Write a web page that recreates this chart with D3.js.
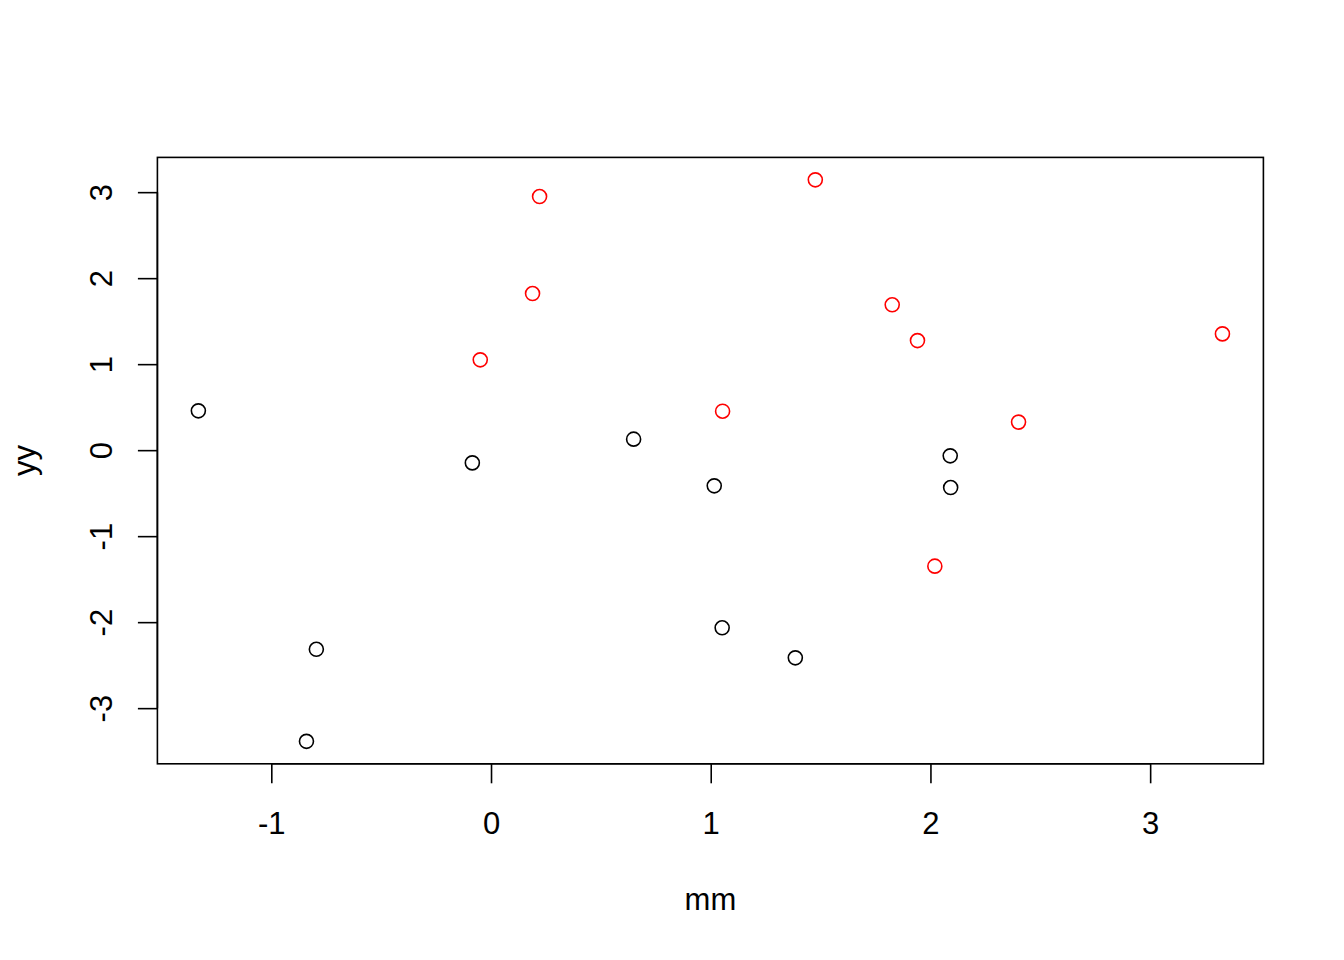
<!DOCTYPE html>
<html>
<head>
<meta charset="utf-8">
<script src="https://cdn.jsdelivr.net/npm/d3@7"></script>
<style>
  html, body { margin: 0; padding: 0; background: #fff; }
  svg { display: block; }
  text { font-family: "Liberation Sans", Arial, Helvetica, sans-serif; fill: #000; }
</style>
</head>
<body>
<script>
// Data: mm (x) and yy (y); first 10 points black, last 10 red
const mmBlack = [-1.332, -0.795, -0.840, -0.085, 0.649, 1.016, 1.052, 1.385, 2.090, 2.092];
const yyBlack = [0.457, -2.316, -3.386, -0.148, 0.128, -0.415, -2.066, -2.415, -0.066, -0.435];
const mmRed = [0.221, 1.476, 0.189, -0.049, 1.054, 1.826, 1.941, 2.020, 2.401, 3.329];
const yyRed = [2.949, 3.143, 1.821, 1.050, 0.453, 1.690, 1.274, -1.349, 0.326, 1.352];
const xTicks = [-1, 0, 1, 2, 3];
const yTicks = [-3, -2, -1, 0, 1, 2, 3];
const xLabel = "mm";
const yLabel = "yy";

const W = 1344, H = 960;
const plot = { left: 157.4, right: 1263.4, top: 157.4, bottom: 763.8 };
const fontSize = 31;

const points = [];
mmBlack.forEach((v, i) => points.push({ x: v, y: yyBlack[i], color: "#000000" }));
mmRed.forEach((v, i) => points.push({ x: v, y: yyRed[i], color: "#FF0000" }));

// R-style 4% axis extension
function rRange(vals) {
  const [a, b] = d3.extent(vals);
  const e = (b - a) * 0.04;
  return [a - e, b + e];
}
const x = d3.scaleLinear().domain(rRange(points.map(p => p.x))).range([plot.left, plot.right]);
const y = d3.scaleLinear().domain(rRange(points.map(p => p.y))).range([plot.bottom, plot.top]);

const svg = d3.select("body").append("svg").attr("width", W).attr("height", H);
svg.append("rect").attr("width", W).attr("height", H).attr("fill", "#fff");

// points
svg.append("g").selectAll("circle").data(points).join("circle")
  .attr("cx", d => x(d.x)).attr("cy", d => y(d.y)).attr("r", 7)
  .attr("fill", "none").attr("stroke", d => d.color).attr("stroke-width", 1.6);

// box
svg.append("rect")
  .attr("x", plot.left).attr("y", plot.top)
  .attr("width", plot.right - plot.left).attr("height", plot.bottom - plot.top)
  .attr("fill", "none").attr("stroke", "#000").attr("stroke-width", 1.6);

// x axis
const xAxis = d3.axisBottom(x).tickValues(xTicks).tickSize(19.5).tickPadding(0).tickFormat(d3.format("d"));
const gx = svg.append("g").attr("transform", `translate(0,${plot.bottom})`).call(xAxis);
gx.select(".domain").attr("d", `M${x(xTicks[0])},0H${x(xTicks[xTicks.length-1])}`).attr("stroke-width", 1.6);
gx.selectAll(".tick line").attr("stroke-width", 1.6);
gx.selectAll(".tick text").attr("font-size", fontSize).attr("font-family", "Liberation Sans, Arial, sans-serif")
  .attr("dy", null).attr("y", 834 - plot.bottom).attr("fill", "#000")
  .text(d => d < 0 ? "-" + Math.abs(d) : String(d));

// y axis
const yAxis = d3.axisLeft(y).tickValues(yTicks).tickSize(19.5).tickPadding(0).tickFormat(d3.format("d"));
const gy = svg.append("g").attr("transform", `translate(${plot.left},0)`).call(yAxis);
gy.select(".domain").attr("d", `M0,${y(yTicks[0])}V${y(yTicks[yTicks.length-1])}`).attr("stroke-width", 1.6);
gy.selectAll(".tick line").attr("stroke-width", 1.6);
gy.selectAll(".tick text").attr("font-size", fontSize).attr("font-family", "Liberation Sans, Arial, sans-serif")
  .attr("x", null).attr("dy", null).attr("text-anchor", "middle").attr("fill", "#000")
  .attr("transform", `translate(${112 - plot.left},0) rotate(-90)`)
  .text(d => d < 0 ? "-" + Math.abs(d) : String(d));

// axis titles
svg.append("text").attr("x", (plot.left + plot.right) / 2).attr("y", 909.5)
  .attr("text-anchor", "middle").attr("font-size", fontSize).text(xLabel);
svg.append("text").attr("transform", `translate(35,${(plot.top + plot.bottom) / 2}) rotate(-90)`)
  .attr("text-anchor", "middle").attr("font-size", fontSize).text(yLabel);
</script>
</body>
</html>
